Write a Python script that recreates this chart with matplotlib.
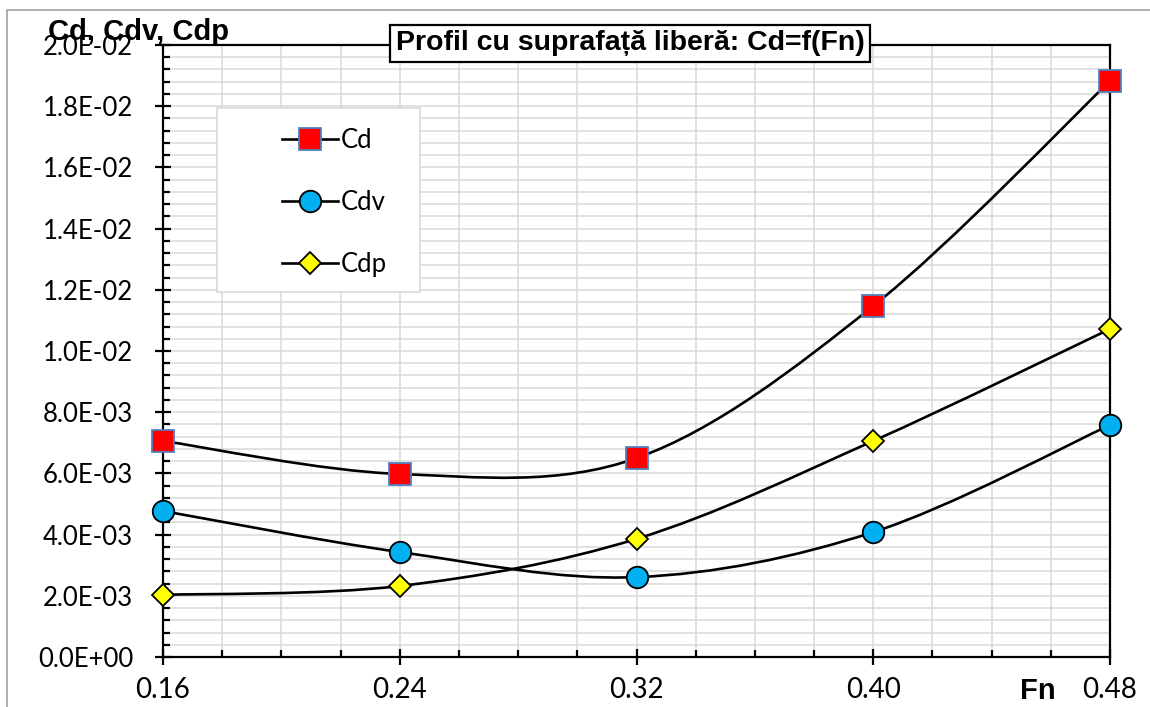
import numpy as np
import matplotlib
matplotlib.use("Agg")
import matplotlib.pyplot as plt
from matplotlib.path import Path
from matplotlib.patches import PathPatch, Rectangle
from matplotlib.lines import Line2D
from matplotlib.ticker import MultipleLocator, FuncFormatter

# ---- data ----
fn = [0.16, 0.24, 0.32, 0.40, 0.48]
cd = [7.06e-3, 5.98e-3, 6.50e-3, 11.47e-3, 18.82e-3]
cdv = [4.77e-3, 3.43e-3, 2.61e-3, 4.08e-3, 7.58e-3]
cdp = [2.03e-3, 2.32e-3, 3.86e-3, 7.06e-3, 10.72e-3]
series_names = ["Cd", "Cdv", "Cdp"]
title_text = "Profil cu suprafață liberă: Cd=f(Fn)"
ylabel_text = "Cd, Cdv, Cdp"
xlabel_text = "Fn"

W, H = 1150, 707
fig = plt.figure(figsize=(W / 100, H / 100), dpi=100)
ax = fig.add_axes([163 / W, 1 - 657 / H, (1110 - 163) / W, (657 - 45) / H])

TICKFONT = "Lato"
BOLDFONT = "Liberation Sans"


def smooth_path(x, y):
    """Excel-like smoothed line: cubic Bezier segments (Catmull-Rom control points)."""
    x = np.asarray(x, float)
    y = np.asarray(y, float)
    n = len(x)
    verts = [(x[0], y[0])]
    codes = [Path.MOVETO]
    for i in range(n - 1):
        i0 = max(i - 1, 0)
        i3 = min(i + 2, n - 1)
        c1 = (x[i] + (x[i + 1] - x[i0]) / 6, y[i] + (y[i + 1] - y[i0]) / 6)
        c2 = (x[i + 1] - (x[i3] - x[i]) / 6, y[i + 1] - (y[i3] - y[i]) / 6)
        verts += [c1, c2, (x[i + 1], y[i + 1])]
        codes += [Path.CURVE4] * 3
    return Path(verts, codes)


styles = [
    dict(marker="s", ms=15.5, mfc="#ff0000", mec="#4f81bd", mew=1.3),
    dict(marker="o", ms=15.5, mfc="#00b0f0", mec="black", mew=1.3),
    dict(marker="D", ms=11.5, mfc="#ffff00", mec="black", mew=1.3),
]

for vals, st in zip([cd, cdv, cdp], styles):
    ax.add_patch(PathPatch(smooth_path(fn, vals), fc="none", ec="black", lw=1.9, zorder=3))
    ax.plot(fn, vals, ls="none", zorder=4, clip_on=False, **st)

ax.set_xlim(0.16, 0.48)
ax.set_ylim(0, 0.02)
ax.xaxis.set_major_locator(MultipleLocator(0.08))
ax.xaxis.set_minor_locator(MultipleLocator(0.02))
ax.yaxis.set_major_locator(MultipleLocator(0.002))
ax.yaxis.set_minor_locator(MultipleLocator(0.0004))
ax.xaxis.set_major_formatter(FuncFormatter(lambda v, p: "%.2f" % v))
ax.yaxis.set_major_formatter(FuncFormatter(lambda v, p: "%.1E" % v))

ax.grid(True, which="both", color="#d9d9d9", lw=1.1, zorder=0)
ax.set_axisbelow(True)
for s in ax.spines.values():
    s.set_color("black")
    s.set_linewidth(1.6)

ax.tick_params(which="major", direction="inout", length=12, width=1.6, color="black")
ax.tick_params(which="minor", direction="in", length=5, width=1.6, color="black")
ax.tick_params(axis="y", which="major", pad=15.5)
ax.tick_params(axis="x", which="major", pad=8.5)
for lab in ax.get_yticklabels():
    lab.set_fontfamily(TICKFONT)
    lab.set_fontsize(18.5)
for lab in ax.get_xticklabels():
    lab.set_fontfamily(TICKFONT)
    lab.set_fontsize(20)

# outer chart border (left and top)
fig.add_artist(Line2D([7 / W, 7 / W, 1.0], [0.0, 1 - 10 / H, 1 - 10 / H],
                      transform=fig.transFigure, color="#a0a0a0", lw=1.2))

# legend box
fig.add_artist(Rectangle((217 / W, 1 - 292 / H), (420 - 217) / W, (292 - 108) / H,
                         transform=fig.transFigure, fc="white", ec="#d9d9d9", lw=1.2, zorder=5))
handles = [Line2D([], [], color="black", lw=1.9, **st) for st in styles]
leg = fig.legend(handles, series_names, loc="upper left",
                 bbox_to_anchor=(269 / W, 1 - 115 / H), frameon=False,
                 prop=dict(family=TICKFONT, size=18.5), handlelength=2.2,
                 handletextpad=0.1, labelspacing=1.45, borderpad=0.0)
leg.set_zorder(6)

# title
fig.text(630 / W, 1 - 43.5 / H, title_text, ha="center", va="center",
         fontsize=20.5, fontweight="bold", family=BOLDFONT, zorder=7,
         bbox=dict(boxstyle="square,pad=0.2", fc="white", ec="black", lw=1.6))

# axis labels
fig.text(48 / W, 1 - 18 / H, ylabel_text, ha="left", va="top",
         fontsize=21, fontweight="bold", family=BOLDFONT, zorder=7)
fig.text(1020 / W, 1 - 691 / H, xlabel_text, ha="left", va="center",
         fontsize=21, fontweight="bold", family=BOLDFONT, zorder=7)

fig.savefig("out.png", dpi=100)
